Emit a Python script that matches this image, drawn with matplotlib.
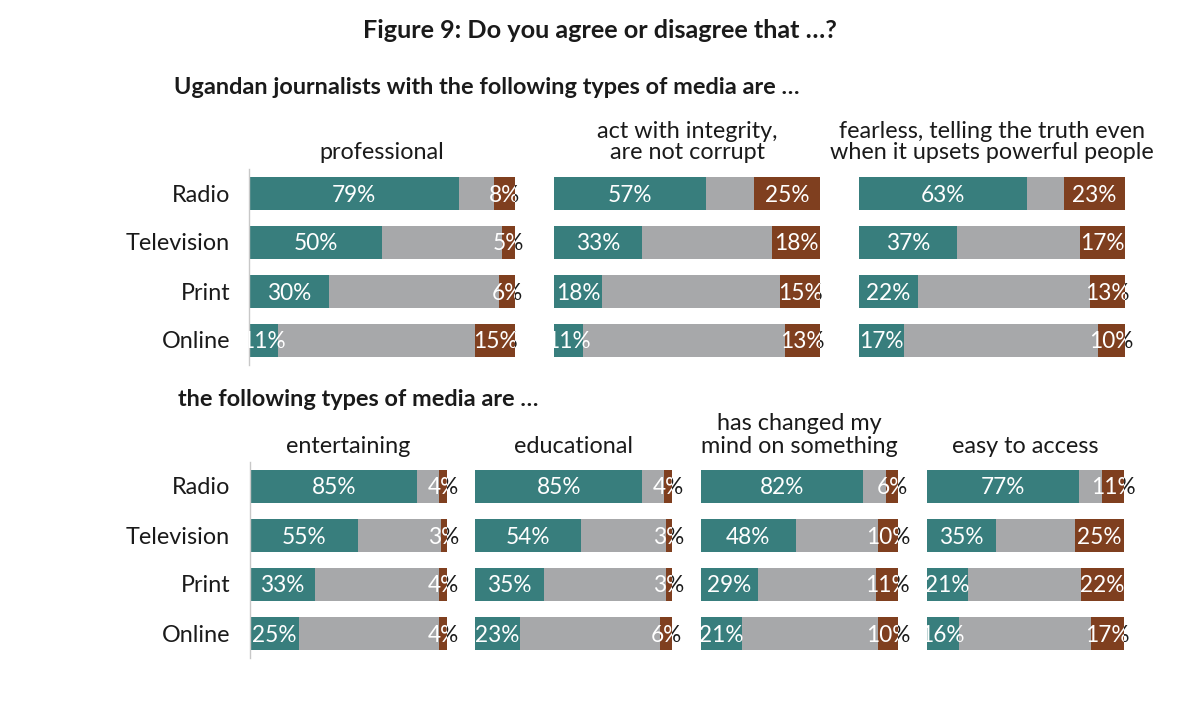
import matplotlib
matplotlib.use("Agg")
import matplotlib.pyplot as plt
from matplotlib.patches import Rectangle

plt.rcParams['font.family'] = ['Lato', 'DejaVu Sans']

categories = ["Radio", "Television", "Print", "Online"]

top_titles = ["professional",
              "act with integrity,\nare not corrupt",
              "fearless, telling the truth even\nwhen it upsets powerful people"]
top_agree = [[79, 50, 30, 11], [57, 33, 18, 11], [63, 37, 22, 17]]
top_disagree = [[8, 5, 6, 15], [25, 18, 15, 13], [23, 17, 13, 10]]

bottom_titles = ["entertaining", "educational",
                 "has changed my\nmind on something", "easy to access"]
bottom_agree = [[85, 55, 33, 25], [85, 54, 35, 23], [82, 48, 29, 21], [77, 35, 21, 16]]
bottom_disagree = [[4, 3, 4, 4], [4, 3, 3, 6], [6, 10, 11, 10], [11, 25, 22, 17]]

title = "Figure 9: Do you agree or disagree that \u2026?"
subtitle_top = "Ugandan journalists with the following types of media are \u2026"
subtitle_bottom = "the following types of media are \u2026"

TEAL = "#387E7D"
GREY = "#A7A8AA"
BROWN = "#7F3F1F"
DARK = "#1A1A1A"

W, H = 1200, 720
fig = plt.figure(figsize=(12, 7.2), dpi=100)
fig.patch.set_facecolor("white")

BAR_H = 33 / 49.0
FS_LAB = 16.3
FS_CAT = 16.8
FS_PT = 16.8
TXT_DY = 2.0 / 49.0


def px_axes(left, top, width, height):
    return fig.add_axes([left / W, 1 - (top + height) / H, width / W, height / H])


def draw_panel(ax, agree, disagree, first, top_px):
    n = len(categories)
    ys = list(range(n))
    neutral = [100 - a - d for a, d in zip(agree, disagree)]
    left_n = list(agree)
    left_d = [a + g for a, g in zip(agree, neutral)]
    ax.barh(ys, agree, height=BAR_H, color=TEAL, edgecolor="none")
    ax.barh(ys, neutral, left=left_n, height=BAR_H, color=GREY, edgecolor="none")
    ax.barh(ys, disagree, left=left_d, height=BAR_H, color=BROWN, edgecolor="none")
    ax.set_xlim(0, 100)
    ax.set_ylim(n - 0.5, -0.5)
    ax.set_xticks([])
    ax.set_yticks([])
    for s in ["top", "right", "bottom"]:
        ax.spines[s].set_visible(False)
    if first:
        ax.spines["left"].set_color("#C8C8C8")
        ax.spines["left"].set_linewidth(1.0)
        for i, c in enumerate(categories):
            ycen = top_px + 24.5 + 49 * i + 2
            fig.text(230 / W, 1 - ycen / H, c, ha="right", va="center",
                     fontsize=FS_CAT, color=DARK)
    else:
        ax.spines["left"].set_visible(False)

    for i in ys:
        for val, start in ((agree[i], 0), (disagree[i], left_d[i])):
            x = start + val / 2.0
            s = f"{val}%"
            t1 = ax.text(x, i + TXT_DY, s, ha="center", va="center", fontsize=FS_LAB,
                         color=DARK, clip_on=True)
            r1 = Rectangle((100, i - 0.5), 40, 1.0, transform=ax.transData)
            t1.set_clip_path(r1)
            t2 = ax.text(x, i + TXT_DY, s, ha="center", va="center", fontsize=FS_LAB,
                         color="white", clip_on=True)
            r2 = Rectangle((0, i - BAR_H / 2), 100, BAR_H, transform=ax.transData)
            t2.set_clip_path(r2)


# Top row
top_lefts = [249, 554, 859]
top_w = 266
TOP_Y = 168.5
for k in range(3):
    ax = px_axes(top_lefts[k], TOP_Y, top_w, 196)
    draw_panel(ax, top_agree[k], top_disagree[k], k == 0, TOP_Y)
    cx = (top_lefts[k] + top_w / 2) / W
    fig.text(cx, 1 - 163 / H, top_titles[k], ha="center", va="bottom",
             fontsize=FS_PT, color=DARK, linespacing=1.0)

# Bottom row
bot_lefts = [250, 475, 701, 927]
bot_w = 197
BOT_Y = 461.5
for k in range(4):
    ax = px_axes(bot_lefts[k], BOT_Y, bot_w, 196)
    draw_panel(ax, bottom_agree[k], bottom_disagree[k], k == 0, BOT_Y)
    cx = (bot_lefts[k] + bot_w / 2) / W
    fig.text(cx, 1 - 457 / H, bottom_titles[k], ha="center", va="bottom",
             fontsize=FS_PT, color=DARK, linespacing=1.12)

fig.text(600 / W, 1 - 30 / H, title, ha="center", va="center",
         fontsize=18.2, fontweight="bold", color=DARK)
fig.text(174 / W, 1 - 88 / H, subtitle_top, ha="left", va="center",
         fontsize=16.9, fontweight="bold", color=DARK)
fig.text(178 / W, 1 - 400 / H, subtitle_bottom, ha="left", va="center",
         fontsize=16.9, fontweight="bold", color=DARK)

fig.savefig("out.png", dpi=100, facecolor="white")
